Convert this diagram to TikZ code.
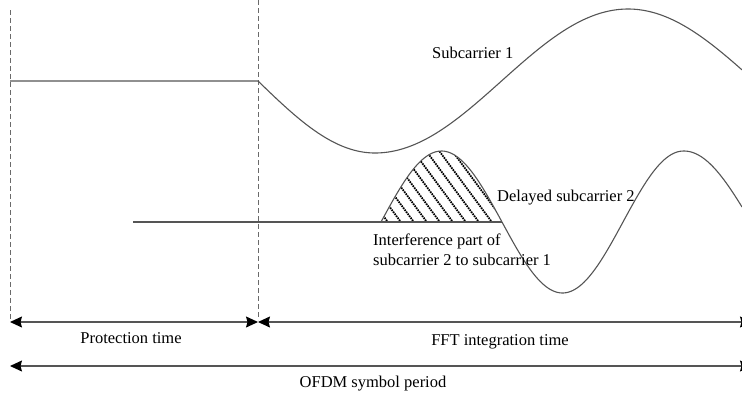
\documentclass[tikz,border=0pt]{standalone}
\usepackage{fontspec}
\setmainfont{Liberation Serif}
\usetikzlibrary{arrows.meta}

\definecolor{wave}{HTML}{555555}
\definecolor{guide}{HTML}{6A6A6A}

\tikzset{
  wave/.style={draw=wave, line width=1.1pt},
  guideline/.style={draw=guide, line width=1pt, dash pattern=on 5pt off 3pt},
  span/.style={draw=wave, line width=1.1pt,
    {Stealth[length=12pt,width=11pt,inset=1.5pt,black]}-{Stealth[length=12pt,width=11pt,inset=1.5pt,black]}},
  hatch/.style={draw=black, line width=1.8pt, dash pattern=on 1.6pt off 0.9pt},
  lbl/.style={inner sep=0pt, font=\fontsize{16.5}{20}\selectfont, text=black},
}

\begin{document}
\begin{tikzpicture}[x=1pt, y=-1pt]
  \useasboundingbox (0,0) rectangle (742,392);
  \clip (0,0) rectangle (742,392);

  % boundary of the guard interval
  \coordinate (g0top) at (10,10);
  \coordinate (g0bot) at (10,320);
  \coordinate (g1top) at (258,0);
  \coordinate (g1bot) at (258,320);
  \draw[guideline] (g0top) -- (g0bot);
  \draw[guideline] (g1top) -- (g1bot);

  % subcarrier 1
  \coordinate (s1a) at (10,81);
  \coordinate (s1b) at (258,81);
  \draw[wave] (s1a) -- (s1b)
    -- plot[domain=258:375, samples=40] (\x, {81+72*sin((\x-258)*0.76923)})
    -- plot[domain=375:742, samples=120] (\x, {81+72*cos((\x-375)*0.71146)});

  % hatched interference region of delayed subcarrier 2
  \begin{scope}
    \clip plot[domain=381:502, samples=60] (\x, {222-71*sin((\x-381)*1.48760)}) -- cycle;
    \foreach \a in {375,388,...,560}
      \draw[hatch] (\a+5,229) -- (\a-75,121);
  \end{scope}

  % delayed subcarrier 2
  \coordinate (s2a) at (133,222);
  \coordinate (s2b) at (502,222);
  \draw[wave] (s2a) -- (s2b);
  \draw[wave] plot[domain=381:684, samples=140] (\x, {222-71*sin((\x-381)*1.48760)})
    -- plot[domain=684:742, samples=30] (\x, {222-71*cos((\x-684)*1.341)});

  % time spans
  \coordinate (pL) at (10,322);
  \coordinate (pM) at (258,322);
  \coordinate (pR) at (752,322);
  \coordinate (oL) at (10,366);
  \coordinate (oR) at (752,366);
  \draw[span] (pL) -- (pM);
  \draw[span] (pM) -- (pR);
  \draw[span] (oL) -- (oR);

  % labels
  \node[lbl, anchor=base west] (lsub1) at (432,58) {Subcarrier 1};
  \node[lbl, anchor=base west] (lsub2) at (497,201) {Delayed subcarrier 2};
  \node[lbl, anchor=base west] (lint1) at (373,245) {Interference part of};
  \node[lbl, anchor=base west] (lint2) at (373,265) {subcarrier 2 to subcarrier 1};
  \node[lbl, anchor=base] (lprot) at (131,343) {Protection time};
  \node[lbl, anchor=base] (lfft) at (500,345) {FFT integration time};
  \node[lbl, anchor=base] (lofdm) at (373,387) {OFDM symbol period};
\end{tikzpicture}
\end{document}
